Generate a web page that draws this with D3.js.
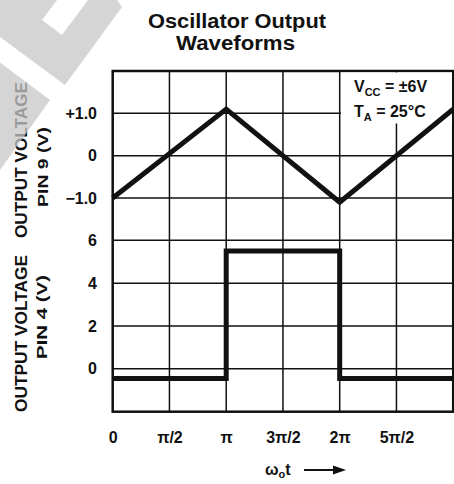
<!DOCTYPE html>
<html>
<head>
<meta charset="utf-8">
<script src="https://cdn.jsdelivr.net/npm/d3@7"></script>
<style>
  body { margin: 0; background: #fff; }
  svg { display: block; }
  text { font-family: "Liberation Sans", Arial, Helvetica, sans-serif; font-weight: bold; fill: #111; }
</style>
</head>
<body>
<svg class="chart" width="454" height="484"></svg>
<script>
// x values are in units of pi/2
const xTicks = [0, 1, 2, 3, 4, 5];
const xTickLabels = ["0", "π/2", "π", "3π/2", "2π", "5π/2"];

// pin 9 : triangle wave (V)
const pin9Ticks = [1, 0, -1];
const pin9Labels = ["+1.0", "0", "−1.0"];
const triX = [0, 2, 4, 6];
const triY = [-1.0, 1.1, -1.1, 1.1];

// pin 4 : square wave (V)
const pin4Ticks = [6, 4, 2, 0];
const sqX = [0, 2, 2, 4, 4, 6];
const sqY = [-0.45, -0.45, 5.5, 5.5, -0.45, -0.45];

const svg = d3.select(".chart");

const x = d3.scaleLinear().domain([0, 6]).range([112.7, 453.2]);
const yTop = d3.scaleLinear().domain([-2, 2]).range([240.3, 71]);
const yBot = d3.scaleLinear().domain([-2, 6]).range([411.7, 240.3]);

/*
    Grid
*/
const grid = svg.append("g").attr("stroke", "#111").attr("stroke-width", 1.5);

grid.selectAll("line.v")
  .data(d3.range(1, 6))
  .join("line")
  .attr("class", "v")
  .attr("x1", d => x(d)).attr("x2", d => x(d))
  .attr("y1", yTop(2)).attr("y2", yBot(-2));

grid.selectAll("line.ht")
  .data([1, 0, -1, -2])
  .join("line")
  .attr("class", "ht")
  .attr("x1", x(0)).attr("x2", x(6))
  .attr("y1", d => yTop(d)).attr("y2", d => yTop(d));

grid.selectAll("line.hb")
  .data([4, 2, 0])
  .join("line")
  .attr("class", "hb")
  .attr("x1", x(0)).attr("x2", x(6))
  .attr("y1", d => yBot(d)).attr("y2", d => yBot(d));

svg.append("rect")
  .attr("x", x(0)).attr("y", yTop(2))
  .attr("width", x(6) - x(0)).attr("height", yBot(-2) - yTop(2))
  .attr("fill", "none").attr("stroke", "#111").attr("stroke-width", 2.5);

/*
    Axes
*/
const leftTop = svg.append("g")
  .attr("transform", `translate(${x(0)},0)`)
  .call(d3.axisLeft(yTop).tickValues(pin9Ticks).tickFormat((d, i) => pin9Labels[i]).tickSize(0).tickPadding(15.7));

const leftBot = svg.append("g")
  .attr("transform", `translate(${x(0)},0)`)
  .call(d3.axisLeft(yBot).tickValues(pin4Ticks).tickSize(0).tickPadding(15.7));

const bottom = svg.append("g")
  .attr("transform", `translate(0,${yBot(-2)})`)
  .call(d3.axisBottom(x).tickValues(xTicks).tickFormat((d, i) => xTickLabels[i]).tickSize(0).tickPadding(20));

[leftTop, leftBot, bottom].forEach(g => {
  g.select(".domain").remove();
  g.attr("font-family", null).attr("font-size", null);
  g.selectAll("text").attr("font-size", 16).attr("fill", "#111");
});

/*
    Annotation box
*/
svg.append("rect")
  .attr("x", 341).attr("y", 72.5).attr("width", 111).attr("height", 51)
  .attr("fill", "#fff");

const vcc = svg.append("text").attr("x", 354).attr("y", 91.5).attr("font-size", 16);
vcc.append("tspan").text("V");
vcc.append("tspan").attr("font-size", 11).attr("dy", 4).text("CC");
vcc.append("tspan").attr("dy", -4).text(" = ±6V");

const ta = svg.append("text").attr("x", 354).attr("y", 117).attr("font-size", 16);
ta.append("tspan").text("T");
ta.append("tspan").attr("font-size", 11).attr("dy", 4).text("A");
ta.append("tspan").attr("dy", -4).text(" = 25°C");

/*
    Waveforms
*/
const line = d3.line();

svg.append("path")
  .datum(triX.map((d, i) => [x(d), yTop(triY[i])]))
  .attr("d", line)
  .attr("fill", "none").attr("stroke", "#111").attr("stroke-width", 5)
  .attr("stroke-linejoin", "miter");

svg.append("path")
  .datum(sqX.map((d, i) => [x(d), yBot(sqY[i])]))
  .attr("d", line)
  .attr("fill", "none").attr("stroke", "#111").attr("stroke-width", 5)
  .attr("stroke-linejoin", "miter");

/*
    Titles
*/
svg.append("text").attr("x", 237).attr("y", 27.5).attr("text-anchor", "middle")
  .attr("font-size", 20).attr("textLength", 178).attr("lengthAdjust", "spacingAndGlyphs")
  .text("Oscillator Output");
svg.append("text").attr("x", 235.5).attr("y", 50).attr("text-anchor", "middle")
  .attr("font-size", 20).attr("textLength", 119).attr("lengthAdjust", "spacingAndGlyphs")
  .text("Waveforms");

const yTitles = [
  { text: "OUTPUT VOLTAGE", cx: 21, cy: 160, size: 17, len: 156 },
  { text: "PIN 9 (V)", cx: 42.5, cy: 167, size: 14.5, len: 80 },
  { text: "OUTPUT VOLTAGE", cx: 21, cy: 333.5, size: 17, len: 157 },
  { text: "PIN 4 (V)", cx: 42, cy: 317, size: 14.5, len: 84 }
];
svg.selectAll("text.ytitle")
  .data(yTitles)
  .join("text")
  .attr("class", "ytitle")
  .attr("transform", d => `translate(${d.cx},${d.cy}) rotate(-90)`)
  .attr("text-anchor", "middle")
  .attr("dy", "0.36em")
  .attr("font-size", d => d.size)
  .attr("textLength", d => d.len)
  .attr("lengthAdjust", "spacingAndGlyphs")
  .text(d => d.text);

const xt = svg.append("text").attr("x", 265).attr("y", 475).attr("font-size", 16);
xt.append("tspan").text("ω");
xt.append("tspan").attr("font-size", 11).attr("dy", 3).text("o");
xt.append("tspan").attr("dy", -3).text("t");

svg.append("line").attr("x1", 304).attr("x2", 336).attr("y1", 470).attr("y2", 470)
  .attr("stroke", "#111").attr("stroke-width", 2);
svg.append("path").attr("d", "M333,465.5L346,470L333,474.5Z").attr("fill", "#111");

/*
    Watermark
*/
const wm = svg.append("g").attr("fill", "#c8c8c8").attr("opacity", 0.75);
wm.append("path").attr("d", "M0,0L57,0L42,20L62,35L88,0L117,0L122,7L65,85L0,37Z");
wm.append("path").attr("d", "M50,100L0,62.5L0,170Z");
</script>
</body>
</html>
